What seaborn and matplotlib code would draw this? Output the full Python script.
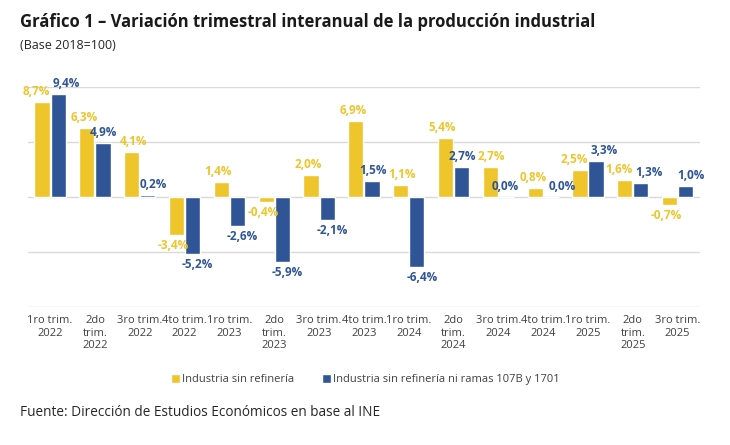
import pandas as pd
import matplotlib
matplotlib.use("Agg")
import matplotlib.pyplot as plt
import seaborn as sns
from matplotlib.patches import Patch

# Data
quarters = ["1ro trim.\n2022", "2do\ntrim.\n2022", "3ro trim.\n2022", "4to trim.\n2022",
            "1ro trim.\n2023", "2do\ntrim.\n2023", "3ro trim.\n2023", "4to trim.\n2023",
            "1ro trim.\n2024", "2do\ntrim.\n2024", "3ro trim.\n2024", "4to trim.\n2024",
            "1ro trim.\n2025", "2do\ntrim.\n2025", "3ro trim.\n2025"]
sin_refineria = [8.7, 6.3, 4.1, -3.4, 1.4, -0.4, 2.0, 6.9, 1.1, 5.4, 2.7, 0.8, 2.5, 1.6, -0.7]
sin_ramas = [9.4, 4.9, 0.2, -5.2, -2.6, -5.9, -2.1, 1.5, -6.4, 2.7, 0.0, 0.0, 3.3, 1.3, 1.0]
series_names = ["Industria sin refinería", "Industria sin refinería ni ramas 107B y 1701"]

yellow = "#EEC52B"
blue = "#2F5597"

df = pd.DataFrame({
    "quarter": quarters * 2,
    "value": sin_refineria + sin_ramas,
    "serie": [series_names[0]] * len(quarters) + [series_names[1]] * len(quarters),
})

sns.set_style("white")
plt.rcParams["font.family"] = ["Open Sans", "DejaVu Sans"]

fig = plt.figure(figsize=(7.3, 4.45), dpi=100)
ax = fig.add_axes([0.038, 0.310, 0.921, 0.494])

sns.barplot(data=df, x="quarter", y="value", hue="serie", palette=[yellow, blue],
            saturation=1, width=0.72, gap=0.06, legend=False, ax=ax)

ax.set_ylim(-10, 10)
ax.set_yticks([-10, -5, 0, 5, 10])
ax.set_yticklabels([])
ax.tick_params(axis="y", length=0)
ax.tick_params(axis="x", length=0, labelsize=8, colors="#404040", pad=6)
for lbl in ax.get_xticklabels():
    lbl.set_linespacing(1.15)
ax.yaxis.grid(True, color="#d9d9d9", linewidth=1)
ax.set_axisbelow(True)
for s in ax.spines.values():
    s.set_visible(False)
ax.set_xlabel("")
ax.set_ylabel("")

# value labels: yellow nudged left, blue nudged right
labels = []
for cont, vals, col, dx in zip(ax.containers, [sin_refineria, sin_ramas], [yellow, blue], [-3, 5]):
    for bar, v in zip(cont, vals):
        x = bar.get_x() + bar.get_width() / 2
        txt = f"{v:.1f}%".replace(".", ",")
        dy, va = (4, "bottom") if v >= 0 else (-4, "top")
        t = ax.annotate(txt, (x, v), xytext=(dx, dy), textcoords="offset pixels",
                        ha="center", va=va, color=col, fontsize=8.5, fontweight="bold")
        labels.append((x, t))

# push neighbouring labels apart where they collide
labels = [t for _, t in sorted(labels, key=lambda p: p[0])]
for _ in range(6):
    fig.canvas.draw()
    moved = False
    for a, b in zip(labels[:-1], labels[1:]):
        ba = a.get_window_extent()
        bb = b.get_window_extent()
        if ba.overlaps(bb):
            shift = (ba.x1 - bb.x0) / 2 + 1
            xa, ya = a.xyann
            xb, yb = b.xyann
            a.xyann = (xa - shift, ya)
            b.xyann = (xb + shift, yb)
            moved = True
    if not moved:
        break

handles = [Patch(facecolor=yellow), Patch(facecolor=blue)]
fig.legend(handles, series_names, loc="center", bbox_to_anchor=(0.5, 0.147), ncol=2,
           frameon=False, fontsize=8, handlelength=0.8, handleheight=0.8,
           handletextpad=0.2, columnspacing=2.5, labelcolor="#404040")

fig.text(0.027, 0.95, "Gráfico 1 – Variación trimestral interanual de la producción industrial",
         fontsize=12, fontweight="bold", color="#1a1a1a", va="center")
fig.text(0.027, 0.898, "(Base 2018=100)", fontsize=9, color="#262626", va="center")
fig.text(0.027, 0.074, "Fuente: Dirección de Estudios Económicos en base al INE",
         fontsize=9.8, color="#262626", va="center")

fig.savefig("out.png", dpi=100)
